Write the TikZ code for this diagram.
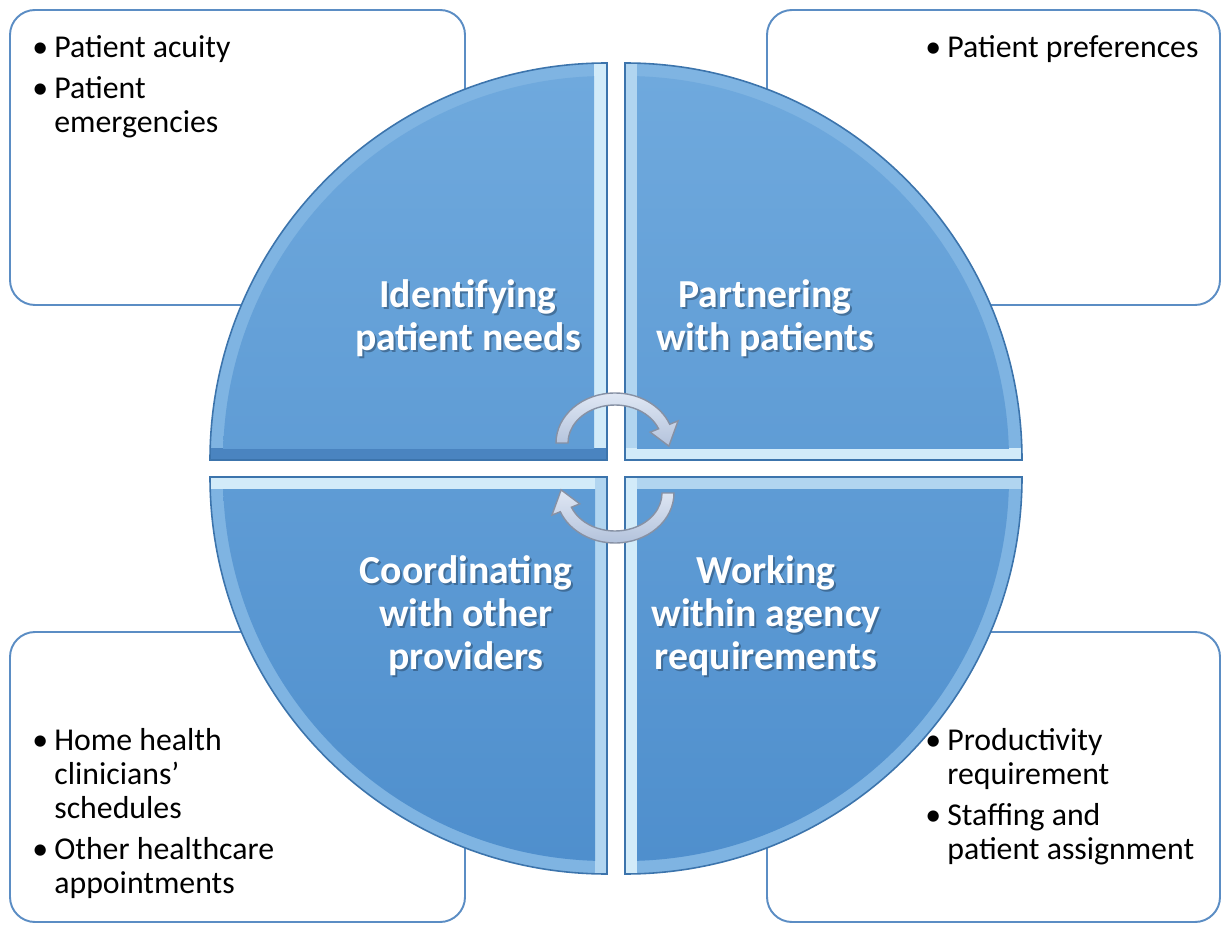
\documentclass[tikz,border=0pt]{standalone}
\usepackage{fontspec}
\setmainfont{Carlito}
\usepackage{xcolor}
\usepackage{tikz}
\usetikzlibrary{positioning}

\definecolor{qtop}{HTML}{6FA9DD}
\definecolor{qbot}{HTML}{4F8FCD}
\definecolor{qbandc}{HTML}{7FB4E2}
\definecolor{qlightc}{HTML}{D2EBF9}
\definecolor{qdarkc}{HTML}{4A84C0}
\definecolor{qline}{HTML}{3C74AC}
\definecolor{boxline}{HTML}{5B8DC4}
\definecolor{arrfill}{HTML}{B9CAE6}
\definecolor{arrline}{HTML}{8791A4}
\definecolor{shadowc}{HTML}{2A4A6A}

\begin{document}
\begin{tikzpicture}[x=0.02cm,y=0.02cm,
    infobox/.style={draw=boxline,line width=1.1pt,rounded corners=0.5cm,fill=white},
    qband/.style={fill=qbandc},
    qlight/.style={fill=qlightc},
    qhalf/.style={fill=qlightc!60!qbandc},
    qdark/.style={fill=qdarkc},
    qface/.style={top color=qtop,bottom color=qbot},
    qedge/.style={draw=qline,line width=0.9pt},
    lbl/.style={text=white,font=\fontsize{22.6}{24.5}\selectfont\bfseries,align=center,inner sep=0pt},
    lblsh/.style={lbl,text=shadowc,opacity=0.55},
    bullets/.style={inner sep=0pt,font=\fontsize{18.1}{19.4}\selectfont},
    arrowshape/.style={draw=arrline,line width=0.8pt,top color=white!55!arrfill,bottom color=arrfill!90!gray}]
  \useasboundingbox (0,0) rectangle (1226,927);

  % boxes behind the circle
  \draw[infobox] (10,622) rectangle (465,917);
  \draw[infobox] (767,622) rectangle (1220,917);
  \draw[infobox] (10,5) rectangle (465,295);
  \draw[infobox] (767,5) rectangle (1220,295);

  \node[bullets,anchor=north west] (acuity) at (32,894) {%
    \begin{tabular}[t]{@{}p{0.44cm}@{}l@{}}
      \textbullet & Patient acuity\\[4pt]
      \textbullet & Patient\\
                  & emergencies
    \end{tabular}};
  \node[bullets,anchor=north west] (prefs) at (925,894) {%
    \begin{tabular}[t]{@{}p{0.44cm}@{}l@{}}
      \textbullet & Patient preferences
    \end{tabular}};
  \node[bullets,anchor=north west] (schedules) at (32,201) {%
    \begin{tabular}[t]{@{}p{0.44cm}@{}l@{}}
      \textbullet & Home health\\
                  & clinicians’\\
                  & schedules\\[4pt]
      \textbullet & Other healthcare\\
                  & appointments
    \end{tabular}};
  \node[bullets,anchor=north west] (staffing) at (925,201) {%
    \begin{tabular}[t]{@{}p{0.44cm}@{}l@{}}
      \textbullet & Productivity\\
                  & requirement\\[4pt]
      \textbullet & Staffing and\\
                  & patient assignment
    \end{tabular}};

  % top left quarter
  \begin{scope}
    \clip (607,467) -- (210,467) arc[start angle=180,end angle=90,radius=397] -- cycle;
    \fill[qband] (200,460) rectangle (610,870);
    \fill[qlight] (594,467) rectangle (607,870);
    \fill[qdark] (200,467) rectangle (607,479);
    \clip (0,479) rectangle (594,927);
    \shade[qface] (607,467) circle[radius=384];
  \end{scope}
  \draw[qedge] (607,467) -- (210,467) arc[start angle=180,end angle=90,radius=397] -- cycle;

  % top right quarter
  \begin{scope}
    \clip (625,467) -- (625,864) arc[start angle=90,end angle=0,radius=397] -- cycle;
    \fill[qband] (620,460) rectangle (1030,870);
    \fill[qhalf] (625,467) rectangle (637,870);
    \fill[qlight] (625,467) rectangle (1030,479);
    \clip (637,479) rectangle (1226,927);
    \shade[qface] (625,467) circle[radius=384];
  \end{scope}
  \draw[qedge] (625,467) -- (625,864) arc[start angle=90,end angle=0,radius=397] -- cycle;

  % bottom left quarter
  \begin{scope}
    \clip (607,450) -- (210,450) arc[start angle=180,end angle=270,radius=397] -- cycle;
    \fill[qband] (200,45) rectangle (610,455);
    \fill[qlight] (200,438) rectangle (607,450);
    \fill[qhalf] (595,40) rectangle (607,450);
    \clip (0,0) rectangle (595,438);
    \shade[qface] (607,450) circle[radius=384];
  \end{scope}
  \draw[qedge] (607,450) -- (210,450) arc[start angle=180,end angle=270,radius=397] -- cycle;

  % bottom right quarter
  \begin{scope}
    \clip (625,450) -- (625,53) arc[start angle=270,end angle=360,radius=397] -- cycle;
    \fill[qband] (620,45) rectangle (1030,455);
    \fill[qhalf] (625,438) rectangle (1030,450);
    \fill[qlight] (625,40) rectangle (637,450);
    \clip (637,0) rectangle (1226,438);
    \shade[qface] (625,450) circle[radius=384];
  \end{scope}
  \draw[qedge] (625,450) -- (625,53) arc[start angle=270,end angle=360,radius=397] -- cycle;

  % labels
  \node[lblsh] (identsh) at (470,606.5) {Identifying\\patient needs};
  \node[lbl] (ident) at (468,608.5) {Identifying\\patient needs};
  \node[lblsh] (partnersh) at (767,606.5) {Partnering\\with patients};
  \node[lbl] (partner) at (765,608.5) {Partnering\\with patients};
  \node[lblsh] (coordsh) at (468,309) {Coordinating\\with other\\providers};
  \node[lbl] (coord) at (466,311) {Coordinating\\with other\\providers};
  \node[lblsh] (worksh) at (768,309) {Working\\within agency\\requirements};
  \node[lbl] (work) at (766,311) {Working\\within agency\\requirements};

  % cycle arrows in the middle
  \draw[arrowshape] (615,484) ++(180:59 and 50)
    arc[start angle=180,end angle=22,x radius=59,y radius=50]
    -- ([shift={(615,484)}]22:68 and 59)
    -- ([shift={(615,484)}]-4:54 and 45)
    -- ([shift={(615,484)}]22:38 and 29)
    -- ([shift={(615,484)}]22:47 and 38)
    arc[start angle=22,end angle=180,x radius=47,y radius=38] -- cycle;
  \begin{scope}[rotate around={180:(615,459)}]
    \draw[arrowshape] (615,484) ++(180:59 and 50)
      arc[start angle=180,end angle=22,x radius=59,y radius=50]
      -- ([shift={(615,484)}]22:68 and 59)
      -- ([shift={(615,484)}]-4:54 and 45)
      -- ([shift={(615,484)}]22:38 and 29)
      -- ([shift={(615,484)}]22:47 and 38)
      arc[start angle=22,end angle=180,x radius=47,y radius=38] -- cycle;
  \end{scope}
\end{tikzpicture}
\end{document}
